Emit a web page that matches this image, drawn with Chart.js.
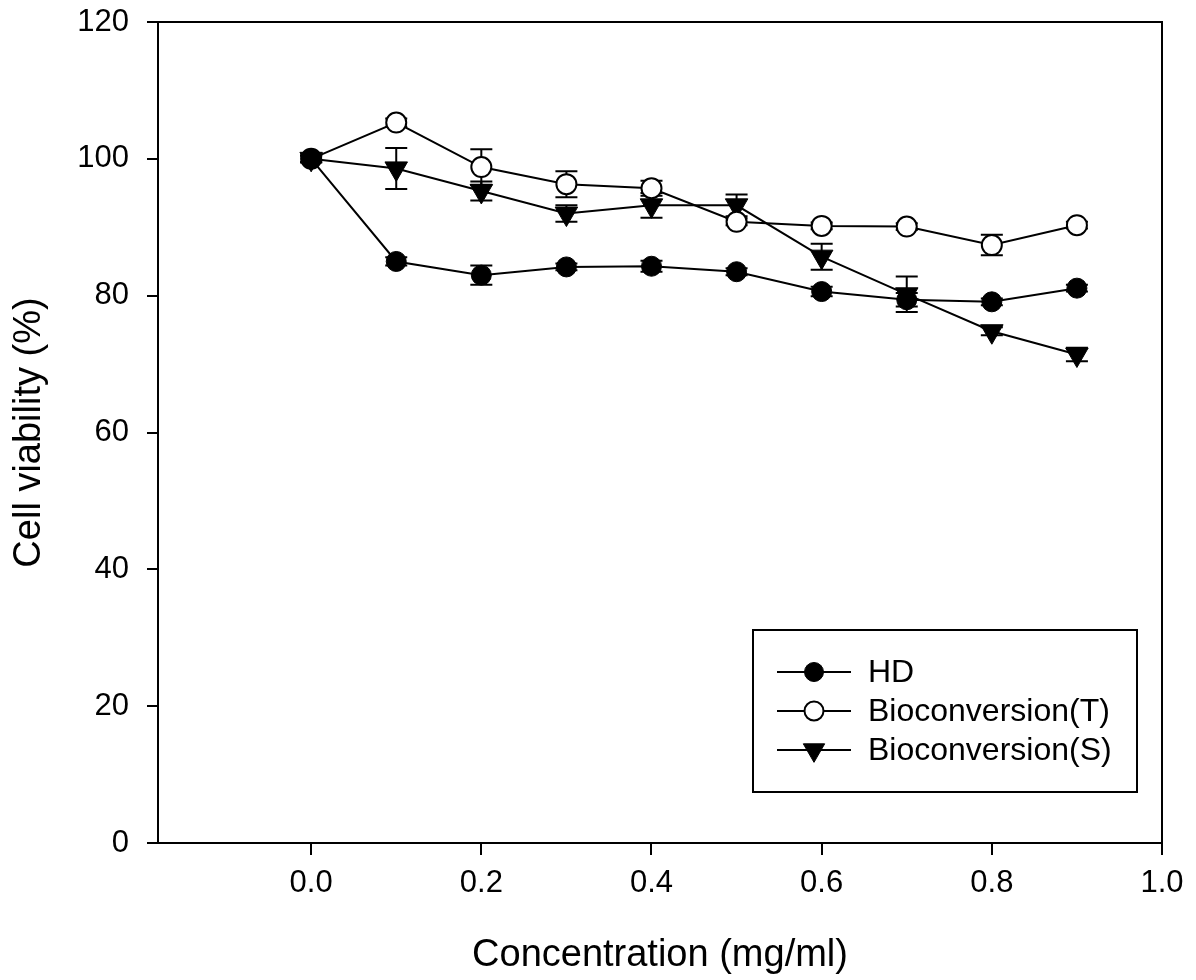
<!DOCTYPE html>
<html>
<head>
<meta charset="utf-8">
<script src="https://cdn.jsdelivr.net/npm/chart.js@4/dist/chart.umd.min.js"></script>
<style>
  html, body { margin: 0; padding: 0; background: #ffffff; }
  canvas { display: block; }
</style>
</head>
<body>
<canvas id="c" width="1196" height="980"></canvas>
<script>
// ---- data ----
const concentrations = [0.0, 0.1, 0.2, 0.3, 0.4, 0.5, 0.6, 0.7, 0.8, 0.9];
const hdValues   = [100, 85.0, 83.0, 84.2, 84.3, 83.5, 80.6, 79.4, 79.1, 81.1];
const hdErrors   = [0.5, 0.6, 1.4, 0.5, 0.8, 0.5, 0.7, 1.0, 0.5, 0.5];
const bioTValues = [100, 105.3, 98.8, 96.3, 95.7, 90.8, 90.2, 90.1, 87.4, 90.3];
const bioTErrors = [0.5, 0.6, 2.6, 1.9, 1.1, 0.5, 0.5, 0.5, 1.5, 0.5];
const bioSValues = [100, 98.6, 95.3, 92.0, 93.2, 93.2, 85.7, 80.2, 74.8, 71.4];
const bioSErrors = [0.5, 3.0, 1.4, 1.2, 1.8, 1.6, 1.9, 2.6, 0.6, 1.0];
const seriesLabels = ['HD', 'Bioconversion(T)', 'Bioconversion(S)'];
const xTickValues = [0.0, 0.2, 0.4, 0.6, 0.8, 1.0];
const yTickValues = [0, 20, 40, 60, 80, 100, 120];
const xTitle = 'Concentration (mg/ml)';
const yTitle = 'Cell viability (%)';

const FONT = "'Liberation Sans', Arial, Helvetica, sans-serif";

function toPoints(vals) { return concentrations.map((x, i) => ({ x: x, y: vals[i] })); }

const seriesErrors = [hdErrors, bioTErrors, bioSErrors];

const errorBarPlugin = {
  id: 'errorBars',
  beforeDatasetsDraw(chart) {
    const ctx = chart.ctx;
    const xs = chart.scales.x, ys = chart.scales.y;
    ctx.save();
    ctx.strokeStyle = '#000';
    ctx.lineWidth = 2;
    chart.data.datasets.forEach((ds, di) => {
      const errs = seriesErrors[di];
      ds.data.forEach((p, j) => {
        const e = errs[j];
        if (!e) return;
        const px = xs.getPixelForValue(p.x);
        const yt = ys.getPixelForValue(p.y + e);
        const yb = ys.getPixelForValue(p.y - e);
        const hw = 11;
        ctx.beginPath();
        ctx.moveTo(px, yt); ctx.lineTo(px, yb);
        ctx.moveTo(px - hw, yt); ctx.lineTo(px + hw, yt);
        ctx.moveTo(px - hw, yb); ctx.lineTo(px + hw, yb);
        ctx.stroke();
      });
    });
    ctx.restore();
  }
};

const framePlugin = {
  id: 'frame',
  afterDraw(chart) {
    const a = chart.chartArea, ctx = chart.ctx;
    ctx.save();
    ctx.strokeStyle = '#000';
    ctx.lineWidth = 2;
    ctx.strokeRect(a.left, a.top, a.right - a.left, a.bottom - a.top);
    ctx.restore();
  }
};

function drawMarker(ctx, ds, x, y) {
  ctx.save();
  ctx.fillStyle = ds.pointBackgroundColor;
  ctx.strokeStyle = ds.pointBorderColor;
  ctx.lineWidth = ds.pointBorderWidth;
  const opts = { pointStyle: ds.pointStyle, rotation: ds.pointRotation || 0, radius: ds.pointRadius, borderWidth: ds.pointBorderWidth };
  if (Chart.helpers && Chart.helpers.drawPoint) {
    Chart.helpers.drawPoint(ctx, opts, x, y);
  } else {
    ctx.beginPath();
    if (ds.pointStyle === 'triangle') {
      const r = ds.pointRadius;
      ctx.moveTo(x, y + r);
      ctx.lineTo(x - r * 0.866, y - r * 0.5);
      ctx.lineTo(x + r * 0.866, y - r * 0.5);
      ctx.closePath();
    } else {
      ctx.arc(x, y, ds.pointRadius, 0, Math.PI * 2);
    }
    ctx.fill(); ctx.stroke();
  }
  ctx.restore();
}

const legendPlugin = {
  id: 'boxLegend',
  afterDraw(chart) {
    const ctx = chart.ctx;
    const bx = 753, by = 630, bw = 384, bh = 162;
    ctx.save();
    ctx.strokeStyle = '#000';
    ctx.lineWidth = 2;
    ctx.strokeRect(bx, by, bw, bh);
    const rows = [672, 711, 750];
    chart.data.datasets.forEach((ds, i) => {
      const y = rows[i];
      ctx.strokeStyle = '#000';
      ctx.lineWidth = 2;
      ctx.beginPath();
      ctx.moveTo(777, y); ctx.lineTo(851, y);
      ctx.stroke();
      const small = Object.assign({}, ds, { pointRadius: ds.pointRadius * 0.95 });
      drawMarker(ctx, small, 814, y);
      ctx.fillStyle = '#000';
      ctx.font = '32px ' + FONT;
      ctx.textBaseline = 'middle';
      ctx.textAlign = 'left';
      ctx.fillText(ds.label, 868, y + 1);
    });
    ctx.restore();
  }
};

const datasets = [
  {
    label: seriesLabels[0],
    data: toPoints(hdValues),
    borderColor: '#000', borderWidth: 2,
    pointStyle: 'circle', pointRadius: 10, pointBorderWidth: 1,
    pointBackgroundColor: '#000', pointBorderColor: '#000'
  },
  {
    label: seriesLabels[1],
    data: toPoints(bioTValues),
    borderColor: '#000', borderWidth: 2,
    pointStyle: 'circle', pointRadius: 10, pointBorderWidth: 2,
    pointBackgroundColor: '#fff', pointBorderColor: '#000'
  },
  {
    label: seriesLabels[2],
    data: toPoints(bioSValues),
    borderColor: '#000', borderWidth: 2,
    pointStyle: 'triangle', pointRotation: 180, pointRadius: 13, pointBorderWidth: 1,
    pointBackgroundColor: '#000', pointBorderColor: '#000'
  }
];
datasets.forEach(d => { d.pointHoverRadius = d.pointRadius; d.tension = 0; d.fill = false; });

new Chart(document.getElementById('c'), {
  type: 'line',
  data: { datasets: datasets },
  options: {
    responsive: false,
    animation: false,
    devicePixelRatio: 1,
    layout: { padding: { top: 22, right: 34, left: 0, bottom: 0 } },
    plugins: { legend: { display: false }, tooltip: { enabled: false } },
    scales: {
      x: {
        type: 'linear',
        min: -0.18, max: 1.0,
        afterBuildTicks(scale) { scale.ticks = xTickValues.map(v => ({ value: v })); },
        afterFit(scale) { scale.height = 137; scale.paddingLeft = 0; scale.paddingRight = 0; },
        ticks: {
          color: '#000',
          font: { family: FONT, size: 31 },
          padding: 10,
          maxRotation: 0,
          callback: v => Number(v).toFixed(1)
        },
        grid: { drawOnChartArea: false, drawTicks: true, tickLength: 12, color: '#000', lineWidth: 2 },
        border: { display: true, color: '#000', width: 2 },
        title: { display: true, text: xTitle, color: '#000', font: { family: FONT, size: 38 }, padding: { top: 0, bottom: 2 } }
      },
      y: {
        type: 'linear',
        min: 0, max: 120,
        afterBuildTicks(scale) { scale.ticks = yTickValues.map(v => ({ value: v })); },
        afterFit(scale) { scale.width = 158; scale.paddingTop = 0; scale.paddingBottom = 0; },
        ticks: {
          color: '#000',
          font: { family: FONT, size: 31 },
          padding: 18
        },
        grid: { drawOnChartArea: false, drawTicks: true, tickLength: 11, color: '#000', lineWidth: 2 },
        border: { display: true, color: '#000', width: 2 },
        title: { display: true, text: yTitle, color: '#000', font: { family: FONT, size: 38 }, padding: { top: 7, bottom: 0 } }
      }
    }
  },
  plugins: [errorBarPlugin, framePlugin, legendPlugin]
});
</script>
</body>
</html>
